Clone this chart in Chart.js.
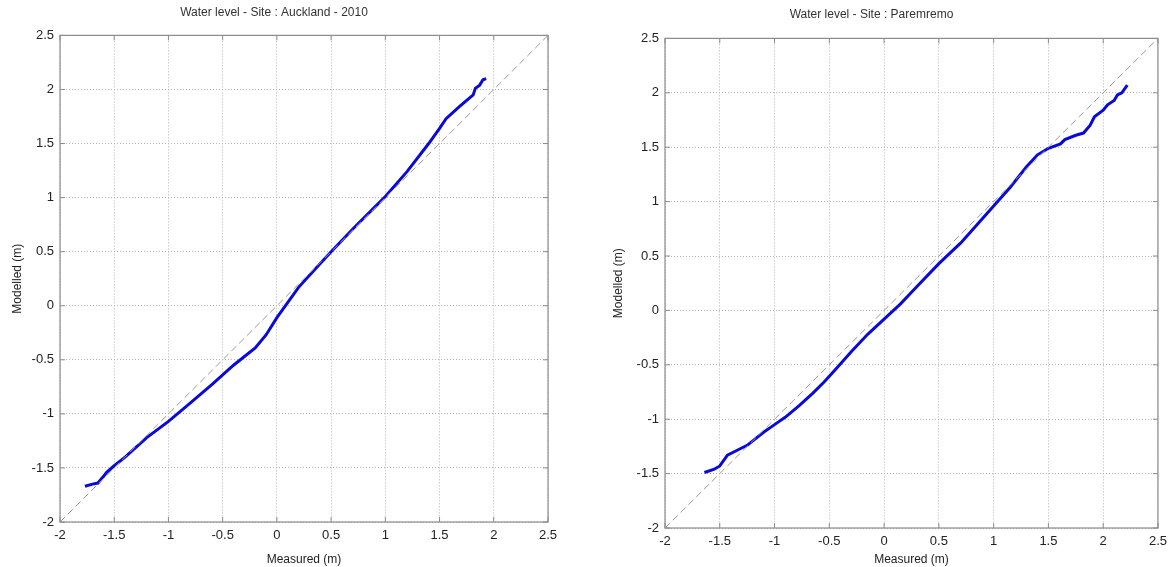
<!DOCTYPE html>
<html>
<head>
<meta charset="utf-8">
<script src="https://cdn.jsdelivr.net/npm/chart.js@4.4.1/dist/chart.umd.min.js"></script>
<style>
  body { margin: 0; background: #fff; width: 1173px; height: 567px; overflow: hidden; }
  .box { position: absolute; top: 0; height: 567px; }
  #left { left: 0; width: 580px; }
  #right { left: 585px; width: 588px; }
</style>
</head>
<body>
<div class="box" id="left"><canvas id="chartAuckland" width="580" height="567"></canvas></div>
<div class="box" id="right"><canvas id="chartParemremo" width="588" height="567"></canvas></div>
<script>
const aucklandMeasured = [-1.77, -1.70, -1.65, -1.60, -1.57, -1.50, -1.40, -1.30, -1.20, -1.00, -0.80, -0.60, -0.40, -0.20, -0.10, 0.00, 0.20, 0.40, 0.50, 0.70, 0.90, 1.00, 1.20, 1.40, 1.50, 1.56, 1.68, 1.81, 1.83, 1.87, 1.90, 1.93];
const aucklandModelled = [-1.67, -1.65, -1.64, -1.58, -1.54, -1.48, -1.40, -1.31, -1.22, -1.07, -0.90, -0.73, -0.55, -0.39, -0.27, -0.11, 0.17, 0.39, 0.50, 0.71, 0.91, 1.01, 1.24, 1.50, 1.64, 1.73, 1.84, 1.95, 2.01, 2.04, 2.09, 2.10];

const paremremoMeasured = [-1.64, -1.55, -1.50, -1.43, -1.35, -1.25, -1.10, -1.00, -0.90, -0.77, -0.65, -0.55, -0.45, -0.30, -0.15, 0.00, 0.15, 0.30, 0.50, 0.70, 0.85, 1.00, 1.15, 1.30, 1.40, 1.50, 1.61, 1.65, 1.75, 1.82, 1.88, 1.92, 2.00, 2.04, 2.10, 2.13, 2.17, 2.22];
const paremremoModelled = [-1.49, -1.46, -1.43, -1.33, -1.29, -1.24, -1.12, -1.05, -0.98, -0.87, -0.76, -0.66, -0.55, -0.38, -0.22, -0.08, 0.06, 0.22, 0.43, 0.62, 0.79, 0.96, 1.13, 1.32, 1.43, 1.49, 1.53, 1.57, 1.61, 1.63, 1.70, 1.78, 1.84, 1.89, 1.93, 1.98, 2.00, 2.07];

// Línea 1:1 de referencia
const refLine = [-2, 2.5];
const axisMin = -2;
const axisMax = 2.5;
const tickStep = 0.5;

function toPoints(xs, ys) {
    return xs.map((x, i) => ({ x: x, y: ys[i] }));
}

// Marco tipo MATLAB con marcas hacia adentro en los cuatro lados
const boxPlugin = {
    id: "boxFrame",
    afterDraw(chart) {
        const { ctx, chartArea: a, scales } = chart;
        ctx.save();
        ctx.strokeStyle = "#8c8c8c";
        ctx.lineWidth = 1.2;
        ctx.strokeRect(a.left, a.top, a.right - a.left, a.bottom - a.top);
        ctx.lineWidth = 1;
        ctx.beginPath();
        for (let v = axisMin; v <= axisMax + 1e-9; v += tickStep) {
            const px = scales.x.getPixelForValue(v);
            ctx.moveTo(px, a.bottom); ctx.lineTo(px, a.bottom - 5);
            ctx.moveTo(px, a.top); ctx.lineTo(px, a.top + 5);
            const py = scales.y.getPixelForValue(v);
            ctx.moveTo(a.left, py); ctx.lineTo(a.left + 5, py);
            ctx.moveTo(a.right, py); ctx.lineTo(a.right - 5, py);
        }
        ctx.stroke();
        ctx.restore();
    }
};

function makeChart(canvasId, title, xs, ys, cfg) {
    const ctx = document.getElementById(canvasId).getContext("2d");
    const tickFont = { family: "'Liberation Sans', Arial, sans-serif", size: 13 };
    const labelFont = { family: "'Liberation Sans', Arial, sans-serif", size: 12, weight: "normal" };
    const fmt = v => String(Number(v.toFixed(2)));
    return new Chart(ctx, {
        type: "scatter",
        data: {
            datasets: [
                {
                    data: toPoints(refLine, refLine),
                    showLine: true,
                    borderColor: "#9a9a9a",
                    borderWidth: 1,
                    borderDash: [7, 4],
                    pointRadius: 0
                },
                {
                    data: toPoints(xs, ys),
                    showLine: true,
                    borderColor: "#0a0ad8",
                    borderWidth: 3,
                    pointRadius: 0,
                    tension: 0
                }
            ]
        },
        options: {
            responsive: false,
            animation: false,
            layout: { padding: cfg.padding },
            plugins: {
                legend: { display: false },
                tooltip: { enabled: false },
                title: {
                    display: true,
                    text: title,
                    color: "#333",
                    font: labelFont,
                    padding: cfg.titlePadding
                }
            },
            scales: {
                x: {
                    type: "linear",
                    min: axisMin,
                    max: axisMax,
                    ticks: { stepSize: tickStep, color: "#222", font: tickFont, padding: cfg.xTickPad, maxRotation: 0, callback: fmt },
                    grid: { color: "#b4b4b4", drawTicks: false, lineWidth: 1 },
                    border: { display: false, dash: [1, 2] },
                    title: { display: true, text: "Measured (m)", color: "#222", font: labelFont, padding: { top: 0, bottom: 0 } },
                    afterFit(scale) { scale.height = cfg.xHeight; }
                },
                y: {
                    type: "linear",
                    min: axisMin,
                    max: axisMax,
                    ticks: { stepSize: tickStep, color: "#222", font: tickFont, padding: 6, callback: fmt },
                    grid: { color: "#b4b4b4", drawTicks: false, lineWidth: 1 },
                    border: { display: false, dash: [1, 2] },
                    title: { display: true, text: "Modelled (m)", color: "#222", font: labelFont, padding: { top: cfg.yTitlePad, bottom: 0 } },
                    afterFit(scale) { scale.width = cfg.yWidth; }
                }
            }
        },
        plugins: [boxPlugin]
    });
}

makeChart("chartAuckland", "Water level - Site : Auckland - 2010", aucklandMeasured, aucklandModelled, {
    padding: { left: 0, right: 32, top: 0, bottom: 0 },
    titlePadding: { top: 5, bottom: 16 },
    xHeight: 45,
    xTickPad: 6,
    yWidth: 60,
    yTitlePad: 10
});

makeChart("chartParemremo", "Water level - Site : Paremremo", paremremoMeasured, paremremoModelled, {
    padding: { left: 0, right: 15, top: 0, bottom: 0 },
    titlePadding: { top: 7, bottom: 17 },
    xHeight: 39,
    xTickPad: 6,
    yWidth: 80,
    yTitlePad: 26
});
</script>
</body>
</html>
